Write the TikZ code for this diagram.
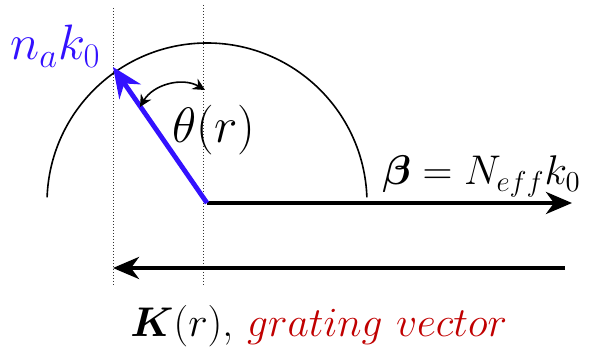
\documentclass[tikz,border=0pt]{standalone}
\usepackage{xcolor}
\usepackage{amsmath}
\usepackage{amssymb}
\usepackage{bm}
\usepackage{tikz}
\usetikzlibrary{arrows.meta,positioning,calc}
\definecolor{wave-blue}{HTML}{3311FF}
\definecolor{grating-red}{HTML}{C00000}

\begin{document}
\begin{tikzpicture}[x=0.5pt, y=0.5pt,
  vec/.style={-{Stealth[length=13pt, width=11pt, inset=4pt]}, line width=2pt, black},
  bluevec/.style={-{Stealth[length=15pt, width=13pt, inset=5pt]}, line width=2.4pt, wave-blue},
  guide/.style={densely dotted, line width=0.5pt, black!80},
  anglearr/.style={{Stealth[length=6pt, width=6pt]}-{Stealth[length=6pt, width=6pt]}, line width=0.8pt},
  lbl/.style={inner sep=0pt, anchor=base west, font=\fontsize{20}{24}\selectfont}
]
  \useasboundingbox (0,0) rectangle (607,347);
  \coordinate (origin) at (207,144);
  \coordinate (tip) at (113,280);
  \coordinate (betaend) at (572,144);
  \coordinate (kstart) at (565,79);
  \coordinate (kend) at (113,79);
  \coordinate (guidetop) at (113,339);
  \coordinate (guidebot) at (113,62);
  \coordinate (axistop) at (203,342);
  \coordinate (axisbot) at (203,62);
  \coordinate (angA) at (140,240);
  \coordinate (angB) at (205,257);
  % guide lines
  \draw[guide] (guidetop) -- (guidebot);
  \draw[guide] (axistop) -- (axisbot);
  % circle of radius n_a k_0
  \draw[line width=0.8pt] ($(origin)+(2:160)$) arc[start angle=2, end angle=178, radius=160];
  \draw[vec] (origin) -- (betaend);
  \draw[vec] (kstart) -- (kend);
  \draw[bluevec] (origin) -- (tip);
  \draw[anglearr] (angA) to[bend left=45] (angB);
  % labels
  \node[lbl, text=wave-blue, font=\fontsize{24}{28}\selectfont] (nalabel) at (10,287) {$n_a k_0$};
  \node[lbl, font=\fontsize{24}{28}\selectfont] (thetalabel) at (172,204) {$\theta(r)$};
  \node[lbl, font=\fontsize{21}{25}\selectfont] (betalabel) at (382,162) {$\bm{\beta} = N_{eff} k_0$};
  \node[lbl, font=\fontsize{22.5}{27}\selectfont] (klabel) at (130,10) {$\bm{K}(r)$, \textcolor{grating-red}{$grating\ vector$}};
\end{tikzpicture}
\end{document}
